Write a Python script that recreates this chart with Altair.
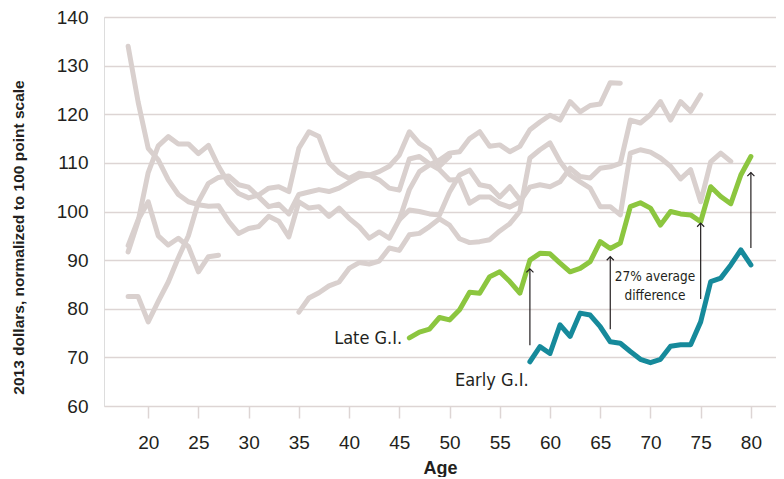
import altair as alt
import pandas as pd

# ---- data ----
# gray cohort lines: first age and yearly values
gray_names = ["c1", "c2", "c3", "c4", "c5", "c6"]
gray_start = [18, 18, 18, 18, 35, 45]
gray_c1 = [93, 98.3, 102, 95, 93.1, 94.5, 92.8, 87.6, 90.7, 91]
gray_c2 = [91.7, 98, 108, 113.5, 115.4, 113.9, 113.9, 111.9, 113.6, 109.3, 105.8, 103.7,
           102.8, 103.4, 104.8, 105.1, 104.1, 113, 116.4, 115.4, 110, 108, 106.8, 107.9,
           107.5, 108.2, 109.3, 111.6, 116.4, 114, 112.7, 109.3, 111.3]
gray_c3 = [134, 122.5, 113, 110.6, 106.5, 103.5, 102, 101.4, 101.1, 101.2, 98, 95.5,
           96.5, 96.9, 99, 98, 94.8, 102, 100.7, 101, 99, 100.7, 98.6, 96.9, 94.5, 95.8,
           94.5, 98.3, 104.5, 108.2, 109.6, 110.6, 112, 112.3, 115, 116.4, 113.4, 113.7,
           112.3, 113.4, 116.8, 118.4, 119.8, 118.8, 122.6, 120.5, 121.8, 122.1, 126.5, 126.4]
gray_c4 = [82.5, 82.5, 77.3, 81.5, 85.5, 90.5, 95, 102, 105.8, 107, 107.3, 105.5, 105,
           103, 101, 101.5, 99.5, 103.5, 104, 104.5, 104.1, 104.8, 106, 107.2, 107.5, 106.5,
           104.8, 104.4, 110.8, 111.3, 109.8, 108.6, 106.5, 106.6, 101.7, 103, 103, 101.6,
           100.9, 102, 105, 105.5, 105.1, 106.1, 108.9, 107.2, 106.9, 108.9, 109.2, 109.9,
           118.8, 118.2, 119.9, 122.6, 118.8, 122.6, 120.6, 124]
gray_c5 = [79.3, 82.2, 83.3, 84.7, 85.5, 88.3, 89.5, 89.2, 89.8, 92.5, 92, 95.2, 95.5,
           96.9, 98.5, 97.2, 94.4, 93.6, 93.8, 94.2, 96, 97.5, 100, 111, 112.7, 114.1,
           110.3, 107.5, 106.1, 104.8, 101, 101, 99.3, 112, 112.7, 112.2, 111, 109.3,
           106.7, 108.6, 102, 110.2, 112, 110.3]
gray_c6 = [98.3, 100.3, 100, 99.5, 99.3, 104, 107.5, 108.5, 105.5, 105.1, 103, 105.1, 102.4]
gray_values = [gray_c1, gray_c2, gray_c3, gray_c4, gray_c5, gray_c6]

late_start = 46
late_gi = [74, 75.2, 75.8, 78.2, 77.7, 79.8, 83.4, 83.2, 86.6, 87.6, 85.6, 83.2, 90, 91.4,
           91.3, 89.4, 87.6, 88.3, 89.7, 93.8, 92.4, 93.5, 101, 101.8, 100.7, 97.2, 100,
           99.5, 99.3, 97.9, 105.1, 103.1, 101.6, 107.5, 111.3]
early_start = 58
early_gi = [69.1, 72.2, 70.8, 76.7, 74.3, 79.1, 78.7, 76.3, 73.2, 72.9, 71.2, 69.6, 68.9,
            69.6, 72.3, 72.6, 72.6, 77.3, 85.6, 86.3, 89, 92.1, 89]

arrow_age = [58, 66, 75, 80]
arrow_from = [72.5, 75.8, 82.0, 92.5]
arrow_to = [88.2, 90.7, 97.6, 108.0]

label_text = ["Late G.I.", "Early G.I."]
label_age = [41.9, 54.2]
label_value = [73.8, 65.1]

note_text = ["27% average", "difference"]
note_age = [70.45, 70.45]
note_value = [86.5, 82.6]

x_ticks = list(range(20, 81, 5))
y_ticks = list(range(60, 141, 10))

# ---- build tables ----
rows = []
for name, start, vals in zip(gray_names, gray_start, gray_values):
    for i, v in enumerate(vals):
        rows.append({"cohort": name, "age": start + i, "value": v})
gray_df = pd.DataFrame(rows)
late_df = pd.DataFrame({"age": [late_start + i for i in range(len(late_gi))], "value": late_gi})
early_df = pd.DataFrame({"age": [early_start + i for i in range(len(early_gi))], "value": early_gi})
arrow_df = pd.DataFrame({"age": arrow_age, "value": arrow_from, "value2": arrow_to})
head_df = pd.DataFrame({"age": arrow_age, "value": arrow_to})
label_df = pd.DataFrame({"age": label_age, "value": label_value, "text": label_text})
note_df = pd.DataFrame({"age": note_age, "value": note_value, "text": note_text})

FONT = "Liberation Sans Narrow, Arial Narrow, DejaVu Sans Condensed, sans-serif"
GRID = "#ddd5d4"
GRAY = "#d9d0ce"
GREEN = "#8cc63f"
TEAL = "#168a9b"
TXT = "#231f20"

xaxis = alt.Axis(values=x_ticks, grid=False, domain=False, ticks=True, tickColor=GRID,
                 tickSize=12, tickWidth=1.5, labelFontSize=19, labelColor=TXT,
                 labelPadding=15, labelFlush=False, title="Age", titleFontSize=18,
                 titleFontWeight="bold", titleColor=TXT, titleY=67,
                 titleBaseline="alphabetic")
yaxis = alt.Axis(values=y_ticks, grid=True, gridColor=GRID, gridWidth=1.5, domain=False,
                 ticks=False, labelPadding=16, labelFontSize=19, labelColor=TXT,
                 title="2013 dollars, normalized to 100 point scale", titleFontSize=15.5,
                 titleFontWeight="bold", titleColor=TXT, titleX=-81, titleY=220,
                 titleAlign="center", titleBaseline="alphabetic")

xs = alt.Scale(domain=[15.6, 82.5], nice=False, zero=False)
ys = alt.Scale(domain=[60, 140], nice=False, zero=False)

X = alt.X("age:Q", scale=xs, axis=xaxis)
Y = alt.Y("value:Q", scale=ys, axis=yaxis)

gray = alt.Chart(gray_df).mark_line(stroke=GRAY, strokeWidth=5, strokeCap="round",
                                    strokeJoin="round").encode(x=X, y=Y, detail="cohort:N")
late = alt.Chart(late_df).mark_line(stroke=GREEN, strokeWidth=5, strokeCap="round",
                                    strokeJoin="round").encode(x=X, y=Y)
early = alt.Chart(early_df).mark_line(stroke=TEAL, strokeWidth=5, strokeCap="round",
                                      strokeJoin="round").encode(x=X, y=Y)
shafts = alt.Chart(arrow_df).mark_rule(color=TXT, strokeWidth=1.2).encode(
    x=X, y=Y, y2="value2:Q")
heads = alt.Chart(head_df).mark_point(shape="M-1,1L0,0L1,1", filled=False, size=50,
                                      strokeWidth=1.2, color=TXT, opacity=1).encode(x=X, y=Y)
labels = alt.Chart(label_df).mark_text(fontSize=18, color=TXT, font=FONT, align="center",
                                       baseline="middle").encode(x=X, y=Y, text="text:N")
notes = alt.Chart(note_df).mark_text(fontSize=13.5, color=TXT, font=FONT, align="center",
                                     baseline="middle").encode(x=X, y=Y, text="text:N")

chart = alt.layer(gray, late, early, shafts, heads, labels, notes).properties(
    width=672, height=389,
    autosize=alt.AutoSizeParams(type="none"),
    padding={"left": 96, "top": 9, "right": 0, "bottom": 71},
).configure_view(stroke=None).configure_axis(
    labelFont=FONT, titleFont=FONT
).configure(background="white")

chart.save("out.html", embed_options={"renderer": "svg", "actions": False})
